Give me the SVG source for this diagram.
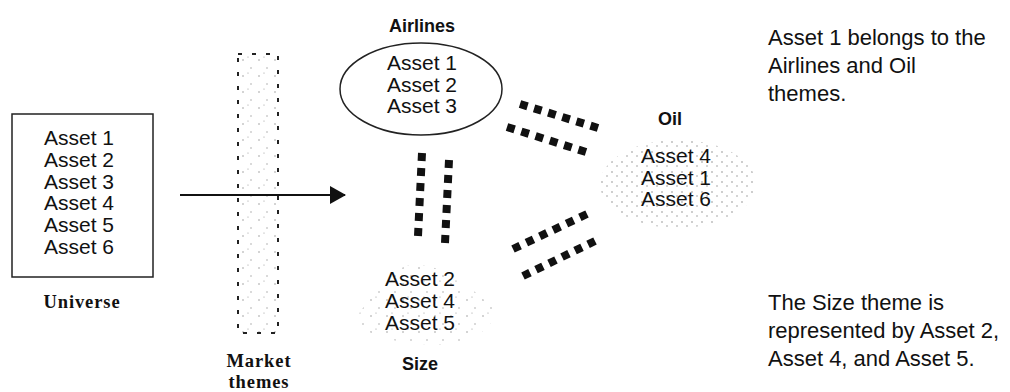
<svg xmlns="http://www.w3.org/2000/svg" width="1010" height="392" viewBox="0 0 1010 392">
<style>
.t{font-family:"Liberation Sans",Arial,sans-serif;font-size:21px;fill:#111}
.c{text-anchor:middle}
.n{font-size:22px}
.b{font-family:"Liberation Sans",Arial,sans-serif;font-size:18px;font-weight:bold;fill:#111;text-anchor:middle}
.s{font-family:"Liberation Serif","Times New Roman",serif;font-size:18.5px;font-weight:bold;fill:#111;text-anchor:middle;letter-spacing:0.9px}
.link{stroke:#111;stroke-width:8;stroke-dasharray:8 7;fill:none}
</style>
<defs>
<pattern id="dots" width="10" height="10" patternUnits="userSpaceOnUse">
<circle cx="2" cy="2" r="0.7" fill="#777"/>
<circle cx="7" cy="6" r="0.7" fill="#888"/>
</pattern>
<pattern id="sparse" width="16" height="16" patternUnits="userSpaceOnUse">
<circle cx="3" cy="12" r="0.7" fill="#888"/>
<circle cx="11" cy="4" r="0.7" fill="#999"/>
<circle cx="8" cy="9" r="0.6" fill="#999"/>
</pattern>
<marker id="ah" markerWidth="16" markerHeight="18" refX="15" refY="9" orient="auto" markerUnits="userSpaceOnUse">
<path d="M0,0 L16,9 L0,18 Z" fill="#111"/>
</marker>
</defs>
<rect width="1010" height="392" fill="#fff"/>

<g id="market-themes">
<rect x="238" y="54" width="40" height="279" fill="url(#sparse)" stroke="#222" stroke-width="2" stroke-dasharray="4 10"/>
<text class="s" x="259" y="367">Market</text>
<text class="s" x="259" y="388">themes</text>
</g>

<g id="universe">
<rect x="12" y="114" width="141" height="163" fill="#fff" stroke="#222" stroke-width="1.5"/>
<text class="t c" x="79" y="145">Asset 1</text>
<text class="t c" x="79" y="167">Asset 2</text>
<text class="t c" x="79" y="189">Asset 3</text>
<text class="t c" x="79" y="210">Asset 4</text>
<text class="t c" x="79" y="232">Asset 5</text>
<text class="t c" x="79" y="254">Asset 6</text>
<text class="s" x="82" y="308">Universe</text>
</g>

<g id="airlines">
<text class="b" x="422" y="32">Airlines</text>
<ellipse cx="421" cy="89" rx="81" ry="46" fill="none" stroke="#222" stroke-width="1.5"/>
<text class="t c" x="422" y="70">Asset 1</text>
<text class="t c" x="422" y="92">Asset 2</text>
<text class="t c" x="422" y="113">Asset 3</text>
</g>

<g id="oil">
<text class="b" x="670" y="125">Oil</text>
<ellipse cx="678" cy="184" rx="78" ry="44" fill="url(#dots)"/>
<text class="t c" x="676" y="163">Asset 4</text>
<text class="t c" x="676" y="185">Asset 1</text>
<text class="t c" x="676" y="206">Asset 6</text>
</g>

<g id="size">
<path d="M352,322 C370,300 390,268 410,265 C440,262 470,285 497,312 C490,330 470,345 440,345 C400,345 370,336 352,322 Z" fill="url(#sparse)"/>
<text class="t c" x="420" y="286">Asset 2</text>
<text class="t c" x="420" y="308">Asset 4</text>
<text class="t c" x="420" y="330">Asset 5</text>
<text class="b" x="420" y="370">Size</text>
</g>

<g id="connectors">
<line x1="180" y1="195" x2="345" y2="195" stroke="#111" stroke-width="2.2" marker-end="url(#ah)"/>
<line class="link" pathLength="83" x1="520" y1="104" x2="598" y2="128"/>
<line class="link" pathLength="83" x1="507" y1="127" x2="586" y2="152"/>
<line class="link" pathLength="83" x1="422" y1="153" x2="418" y2="236"/>
<line class="link" pathLength="83" x1="449" y1="160" x2="445" y2="243"/>
<line class="link" pathLength="83" x1="513" y1="249" x2="587" y2="214"/>
<line class="link" pathLength="83" x1="523" y1="276" x2="595" y2="241"/>
</g>

<g id="notes">
<text class="t n" x="768" y="45">Asset 1 belongs to the</text>
<text class="t n" x="768" y="73">Airlines and Oil</text>
<text class="t n" x="768" y="101">themes.</text>
<text class="t n" x="768" y="310">The Size theme is</text>
<text class="t n" x="768" y="338">represented by Asset 2,</text>
<text class="t n" x="768" y="366">Asset 4, and Asset 5.</text>
</g>
</svg>
